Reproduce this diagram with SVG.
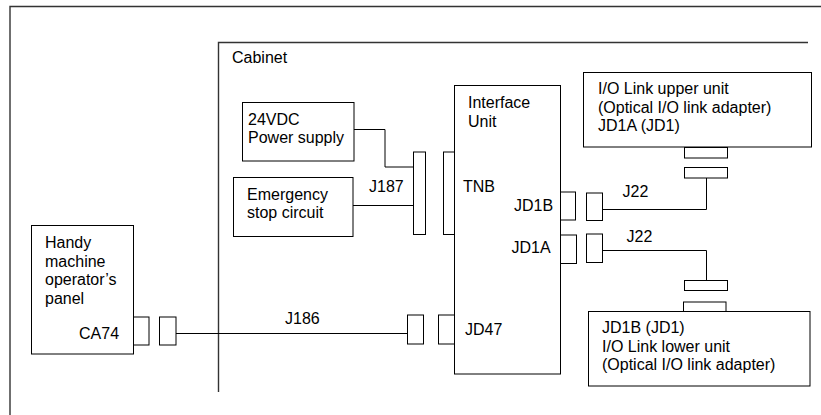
<svg xmlns="http://www.w3.org/2000/svg" width="821" height="415" viewBox="0 0 821 415">
<style>
.box{fill:#fff;stroke:#000;stroke-width:1}
.con{fill:#fff;stroke:#000;stroke-width:1}
.ln{fill:none;stroke:#000;stroke-width:1}
.frame{fill:none;stroke:#333;stroke-width:1.4}
text{font-family:"Liberation Sans",Arial,sans-serif;font-size:16px;fill:#000}
</style>
<rect width="821" height="415" fill="#fff"/>
<g id="frame">
<path class="frame" d="M10,420 V6.5 H825"/>
</g>
<g id="cabinet">
<path class="frame" d="M218.5,392 V42.5 H808"/>
<text x="232" y="63">Cabinet</text>
</g>
<g id="power">
<rect class="box" x="242.5" y="102.5" width="111.5" height="58.5"/>
<text x="248" y="124.5">24VDC</text>
<text x="248" y="142.5">Power supply</text>
</g>
<g id="estop">
<rect class="box" x="233.5" y="177.5" width="119.5" height="59"/>
<text x="247" y="199.5">Emergency</text>
<text x="247" y="217.5">stop circuit</text>
</g>
<g id="handy">
<rect class="box" x="31.5" y="225.5" width="102" height="128.5"/>
<text x="45" y="248">Handy</text>
<text x="45" y="266.5">machine</text>
<text x="45" y="285">operator’s</text>
<text x="45" y="303.5">panel</text>
<text x="79" y="339">CA74</text>
</g>
<g id="iface">
<rect class="box" x="454.5" y="85.5" width="106" height="288.5"/>
<text x="468" y="108">Interface</text>
<text x="468" y="126.5">Unit</text>
<text x="463" y="192">TNB</text>
<text x="514" y="211">JD1B</text>
<text x="511.5" y="252.5">JD1A</text>
<text x="465" y="335">JD47</text>
</g>
<g id="upper">
<rect class="box" x="583.5" y="72.5" width="228" height="74.5"/>
<text x="598" y="94">I/O Link upper unit</text>
<text x="598" y="112.5">(Optical I/O link adapter)</text>
<text x="598" y="131">JD1A (JD1)</text>
</g>
<g id="lower">
<rect class="box" x="588.5" y="311.5" width="221.5" height="74.5"/>
<text x="602" y="333">JD1B (JD1)</text>
<text x="602" y="351.5">I/O Link lower unit</text>
<text x="602" y="370">(Optical I/O link adapter)</text>
</g>
<g id="connectors">
<rect class="con" x="413.5" y="152" width="12" height="82.5"/>
<rect class="con" x="443.5" y="152" width="11" height="82.5"/>
<rect class="con" x="133.5" y="317" width="15.5" height="28"/>
<rect class="con" x="159.5" y="317" width="16.5" height="28"/>
<rect class="con" x="407.5" y="315" width="16" height="29"/>
<rect class="con" x="438.5" y="315" width="16" height="29"/>
<rect class="con" x="560.5" y="192" width="15" height="28"/>
<rect class="con" x="586.5" y="193" width="16" height="27.5"/>
<rect class="con" x="560.5" y="235" width="16" height="28.5"/>
<rect class="con" x="586.5" y="234" width="16" height="28.5"/>
<rect class="con" x="684.5" y="147.5" width="43" height="10.5"/>
<rect class="con" x="684.5" y="167.5" width="43" height="10.5"/>
<rect class="con" x="684.5" y="280.5" width="43" height="10"/>
<rect class="con" x="683.5" y="302" width="42.5" height="9.5"/>
<path class="ln" d="M354,129.5 H385 V167 H413.5"/>
<path class="ln" d="M353,205.5 H413.5"/>
<path class="ln" d="M176,333.5 H407.5"/>
<path class="ln" d="M602.5,209.5 H706.5 V178"/>
<path class="ln" d="M602.5,250.5 H706.5 V280.5"/>
<text x="369" y="192">J187</text>
<text x="285" y="323.5">J186</text>
<text x="622.5" y="196.5">J22</text>
<text x="626.5" y="241.5">J22</text>
</g>
</svg>
